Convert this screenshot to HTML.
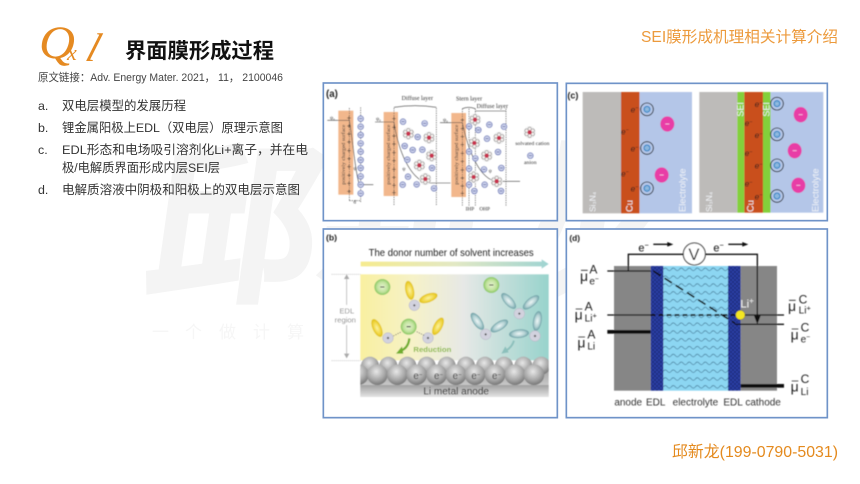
<!DOCTYPE html>
<html lang="zh">
<head>
<meta charset="utf-8">
<title>界面膜形成过程</title>
<style>
html,body{margin:0;padding:0;background:#fff;width:860px;height:484px;overflow:hidden}
svg{display:block}
text{font-family:"Liberation Sans","Noto Sans CJK SC",sans-serif}
.li{font-size:12.4px;fill:#333}
.sf{font-family:"Liberation Serif",serif}
</style>
</head>
<body>
<svg xmlns="http://www.w3.org/2000/svg" width="860" height="484" viewBox="0 0 860 484">
<defs>
<filter id="b" x="-5%" y="-5%" width="110%" height="110%"><feGaussianBlur stdDeviation="1.4"/></filter>
<clipPath id="cb"><rect x="121" y="380" width="565" height="136"/></clipPath>
<linearGradient id="bg" x1="0" x2="1" y1="0" y2="0"><stop offset="0" stop-color="#f9f0a0"/><stop offset=".28" stop-color="#f6f2c8"/><stop offset=".55" stop-color="#e6e8e6"/><stop offset="1" stop-color="#98d3cc"/></linearGradient>
<linearGradient id="ar" x1="0" x2="1" y1="0" y2="0"><stop offset="0" stop-color="#f6eb8e"/><stop offset=".5" stop-color="#e2e8c4"/><stop offset="1" stop-color="#9fd4d2"/></linearGradient>
<linearGradient id="band" x1="0" x2="0" y1="0" y2="1"><stop offset="0" stop-color="#a0a0a0"/><stop offset="1" stop-color="#e4e4e4"/></linearGradient>
<radialGradient id="sp" cx=".45" cy=".35" r=".7"><stop offset="0" stop-color="#e8e8e8"/><stop offset=".6" stop-color="#a6a6a6"/><stop offset="1" stop-color="#6e6e6e"/></radialGradient>
<radialGradient id="gr" cx=".5" cy=".5" r=".5"><stop offset="0" stop-color="#e6f3d0"/><stop offset=".65" stop-color="#c0e29c"/><stop offset="1" stop-color="#86c65e"/></radialGradient>
<radialGradient id="yl" cx=".5" cy=".5" r=".5"><stop offset="0" stop-color="#fbf3a0"/><stop offset=".6" stop-color="#f2d84a"/><stop offset="1" stop-color="#dfc013"/></radialGradient>
<radialGradient id="te" cx=".5" cy=".5" r=".5"><stop offset="0" stop-color="#eef6f6"/><stop offset=".6" stop-color="#b4d2d4"/><stop offset="1" stop-color="#6a9ea4"/></radialGradient>
<pattern id="wave" width="24" height="23.5" patternUnits="userSpaceOnUse" x="310" y="125"><path d="M0 8 q6 -8 12 0 t12 0" fill="none" stroke="#24506e" stroke-width="1.5"/></pattern>
<pattern id="hex" width="12" height="12" patternUnits="userSpaceOnUse"><rect width="12" height="12" fill="#2a3ca2"/><circle cx="3" cy="3" r="2.6" fill="#17226e"/><circle cx="9" cy="9" r="2.6" fill="#17226e"/></pattern>
<g id="an"><circle r="8.5" fill="#ccd2ec" stroke="#4455a4" stroke-width="1.8"/><path d="M-4.5 0H4.5" stroke="#2a3784" stroke-width="1.8"/></g>
<g id="pl"><path d="M-5.5 0H5.5M0 -5.5V5.5" stroke="#222" stroke-width="1.5"/></g>
<g id="ca"><circle r="17" fill="#fff" stroke="#bbb" stroke-width=".8"/><g fill="#f4f0ee" stroke="#555" stroke-width="1.3"><circle cy="-10" r="5.5"/><circle cx="9" cy="-5" r="5.5"/><circle cx="9" cy="5" r="5.5"/><circle cy="10" r="5.5"/><circle cx="-9" cy="5" r="5.5"/><circle cx="-9" cy="-5" r="5.5"/></g><circle r="6.5" fill="#c8324e"/></g>
<g id="cp"><circle r="19" fill="none" stroke="#111" stroke-width="2.6"/><circle r="10.5" fill="#2f86c8"/><circle r="5.5" fill="none" stroke="#fff" stroke-width="1.3"/><path d="M-3 0H3M0 -3V3" stroke="#fff" stroke-width="1.3"/></g>
<g id="cm"><ellipse rx="21" ry="23" fill="#e83ea6"/><path d="M-6 0H6" stroke="#f6c6e4" stroke-width="2.6"/></g>
<g id="sb"><circle r="16" fill="#d2d2de" stroke="#b4b4c4" stroke-width="1.5"/><circle r="2.6" fill="#3a3a3a"/><path d="M-4 0H4M0 -4V4" stroke="#333" stroke-width="1"/></g>
<g id="ga"><circle r="24" fill="url(#gr)"/><path d="M-6 0H6" stroke="#222" stroke-width="3"/></g>
<ellipse id="ey" rx="13" ry="29" fill="url(#yl)"/>
<ellipse id="et" rx="13" ry="30" fill="url(#te)"/>
<circle id="s" r="31" fill="url(#sp)"/>
<circle id="s2" r="27" fill="url(#sp)"/>
</defs>

<!-- watermark -->
<text transform="translate(140,288) skewX(-8)" font-size="172" font-weight="700" fill="#f4f4f4" stroke="#f4f4f4" stroke-width="3" style="font-family:'Noto Sans CJK SC',sans-serif">邱新龙</text>
<g fill="#f6f6f6" font-size="17">
<text x="152" y="338">一</text><text x="185" y="338">个</text><text x="219" y="338">做</text><text x="253" y="338">计</text><text x="287" y="338">算</text>
</g>

<!-- header -->
<text x="39" y="58" font-size="47" class="sf" font-style="italic" fill="#e58a22" textLength="36" lengthAdjust="spacingAndGlyphs">Q</text>
<text x="67" y="60" font-size="22" class="sf" font-style="italic" fill="#e58a22">x</text>
<text transform="translate(84,61) skewX(-18)" font-size="40" class="sf" font-style="italic" fill="#e58a22">l</text>
<text x="125" y="58" font-size="21" font-weight="700" fill="#111" textLength="149" lengthAdjust="spacingAndGlyphs">界面膜形成过程</text>
<text x="38" y="81" font-size="11" fill="#444" textLength="245" lengthAdjust="spacingAndGlyphs">原文链接：Adv. Energy Mater. 2021， 11， 2100046</text>
<text x="641" y="42" font-size="15.5" fill="#ec9a3c" textLength="197" lengthAdjust="spacingAndGlyphs">SEI膜形成机理相关计算介绍</text>
<text x="672" y="457" font-size="16" fill="#e48a1e" textLength="166" lengthAdjust="spacingAndGlyphs">邱新龙(199-0790-5031)</text>

<!-- list -->
<text class="li" x="38" y="110">a.</text><text class="li" x="62" y="110" textLength="124" lengthAdjust="spacingAndGlyphs">双电层模型的发展历程</text>
<text class="li" x="38" y="132">b.</text><text class="li" x="62" y="132" textLength="221" lengthAdjust="spacingAndGlyphs">锂金属阳极上EDL（双电层）原理示意图</text>
<text class="li" x="38" y="154">c.</text><text class="li" x="62" y="154" textLength="246" lengthAdjust="spacingAndGlyphs">EDL形态和电场吸引溶剂化Li+离子，并在电</text>
<text class="li" x="62" y="172" textLength="158" lengthAdjust="spacingAndGlyphs">极/电解质界面形成内层SEI层</text>
<text class="li" x="38" y="194">d.</text><text class="li" x="62" y="194" textLength="238" lengthAdjust="spacingAndGlyphs">电解质溶液中阴极和阳极上的双电层示意图</text>

<!-- panel a -->
<g transform="translate(320,78) scale(.33333)">
<rect x="10" y="15" width="702" height="413" fill="#fff" fill-opacity=".94" stroke="#6f93c8" stroke-width="5"/>
<g filter="url(#b)">
<text x="18" y="57" font-size="29" font-weight="700" fill="#222">(a)</text>
<rect x="55" y="98" width="45" height="252" fill="#f2b78c"/>
<rect x="191" y="102" width="43" height="252" fill="#f2b78c"/>
<rect x="394" y="105" width="44" height="252" fill="#f2b78c"/>
<g fill="none" stroke="#444" stroke-width="1.8">
<path d="M88 90V368M122 88V372M88 368H122" stroke-dasharray="4 3"/>
<path d="M222 90V382M349 90V382M427 92V384M447 92V384M466 92V384M558 92V384" stroke-dasharray="4 3"/>
<path d="M22 127H88C100 200 105 280 118 320H160"/>
<path d="M165 132H222C235 220 270 300 320 315H392"/>
<path d="M360 134H427C445 220 480 305 530 310H600"/>
<path d="M222 88Q285 78 349 88M427 92Q445 84 466 92"/>
<path d="M466 99H558"/>
</g>
<g fill="#333">
<text x="245" y="66" font-size="18" class="sf">Diffuse layer</text>
<text x="408" y="68" font-size="18" class="sf">Stern layer</text>
<text x="470" y="90" font-size="18" class="sf">Diffuse layer</text>
<text x="586" y="201" font-size="17" class="sf">solvated cation</text>
<text x="612" y="258" font-size="17" class="sf">anion</text>
<text x="437" y="397" font-size="16" class="sf">IHP</text>
<text x="478" y="397" font-size="16" class="sf">OHP</text>
<text x="30" y="124" font-size="15" class="sf">ψ₀</text>
<text x="168" y="128" font-size="15" class="sf">ψ₀</text>
<text x="369" y="130" font-size="15" class="sf">ψ₀</text>
<text x="100" y="276" font-size="15" class="sf">ψ</text>
<text x="247" y="278" font-size="15" class="sf">ψ</text>
<text x="506" y="284" font-size="15" class="sf">ψ</text>
<text x="100" y="376" font-size="16" class="sf">d</text>
<text transform="translate(75,320) rotate(-90)" font-size="17" class="sf" textLength="180" lengthAdjust="spacingAndGlyphs">positively charged surface</text>
<text transform="translate(210,320) rotate(-90)" font-size="17" class="sf" textLength="180" lengthAdjust="spacingAndGlyphs">positively charged surface</text>
<text transform="translate(414,320) rotate(-90)" font-size="17" class="sf" textLength="180" lengthAdjust="spacingAndGlyphs">positively charged surface</text>
</g>
<use href="#pl" x="87" y="120"/><use href="#pl" x="87" y="144"/><use href="#pl" x="87" y="168"/><use href="#pl" x="87" y="192"/><use href="#pl" x="87" y="218"/><use href="#pl" x="87" y="242"/><use href="#pl" x="87" y="266"/><use href="#pl" x="87" y="292"/><use href="#pl" x="87" y="316"/><use href="#pl" x="87" y="340"/>
<use href="#pl" x="222" y="122"/><use href="#pl" x="222" y="148"/><use href="#pl" x="222" y="174"/><use href="#pl" x="222" y="198"/><use href="#pl" x="222" y="224"/><use href="#pl" x="222" y="248"/><use href="#pl" x="222" y="274"/><use href="#pl" x="222" y="298"/><use href="#pl" x="222" y="322"/><use href="#pl" x="222" y="344"/>
<use href="#pl" x="427" y="126"/><use href="#pl" x="427" y="152"/><use href="#pl" x="427" y="176"/><use href="#pl" x="427" y="200"/><use href="#pl" x="427" y="226"/><use href="#pl" x="427" y="250"/><use href="#pl" x="427" y="276"/><use href="#pl" x="427" y="300"/><use href="#pl" x="427" y="324"/><use href="#pl" x="427" y="346"/>
<use href="#an" x="122" y="122"/><use href="#an" x="122" y="146"/><use href="#an" x="122" y="171"/><use href="#an" x="122" y="196"/><use href="#an" x="122" y="221"/><use href="#an" x="122" y="246"/><use href="#an" x="122" y="270"/><use href="#an" x="122" y="295"/><use href="#an" x="122" y="320"/><use href="#an" x="122" y="346"/>
<use href="#an" x="249" y="131"/><use href="#an" x="314" y="136"/><use href="#an" x="293" y="177"/><use href="#an" x="254" y="204"/><use href="#an" x="278" y="216"/><use href="#an" x="307" y="215"/><use href="#an" x="262" y="245"/><use href="#an" x="336" y="270"/><use href="#an" x="264" y="296"/><use href="#an" x="248" y="320"/><use href="#an" x="290" y="319"/><use href="#an" x="342" y="331"/>
<use href="#ca" x="265" y="167"/><use href="#ca" x="327" y="179"/><use href="#ca" x="335" y="233"/><use href="#ca" x="298" y="262"/><use href="#ca" x="316" y="303"/>
<use href="#an" x="447" y="145"/><use href="#an" x="475" y="156"/><use href="#an" x="508" y="140"/><use href="#an" x="552" y="146"/><use href="#an" x="501" y="182"/><use href="#an" x="447" y="221"/><use href="#an" x="534" y="222"/><use href="#an" x="466" y="241"/><use href="#an" x="447" y="272"/><use href="#an" x="492" y="274"/><use href="#an" x="544" y="270"/><use href="#an" x="494" y="320"/><use href="#an" x="447" y="320"/><use href="#an" x="463" y="339"/><use href="#an" x="543" y="339"/>
<use href="#ca" x="465" y="125"/><use href="#ca" x="463" y="195"/><use href="#ca" x="537" y="180"/><use href="#ca" x="500" y="233"/><use href="#ca" x="461" y="297"/><use href="#ca" x="530" y="310"/>
<use href="#ca" x="629" y="163"/><use href="#an" x="631" y="233"/>
</g>
</g>

<!-- panel c -->
<g transform="translate(560,78) scale(.33333)">
<rect x="19" y="16" width="783" height="412" fill="#fff" stroke="#6f93c8" stroke-width="5"/>
<g filter="url(#b)">
<text x="22" y="62" font-size="27" font-weight="700" fill="#222">(c)</text>
<rect x="68" y="42" width="115" height="364" fill="#bdbbb9"/>
<rect x="183" y="42" width="56" height="364" fill="#c9501e"/>
<rect x="239" y="42" width="157" height="364" fill="#b4c6e8"/>
<rect x="418" y="42" width="114" height="362" fill="#bdbbb9"/>
<rect x="532" y="42" width="21" height="362" fill="#83d03a"/>
<rect x="553" y="42" width="56" height="362" fill="#c9501e"/>
<rect x="609" y="42" width="23" height="362" fill="#83d03a"/>
<rect x="632" y="42" width="158" height="362" fill="#b4c6e8"/>
<g fill="#f2f4f8" font-size="28">
<text transform="translate(106,402) rotate(-90)" font-size="25">Si₃N₄</text>
<text transform="translate(218,402) rotate(-90)">Cu</text>
<text transform="translate(376,402) rotate(-90)">Electrolyte</text>
<text transform="translate(456,402) rotate(-90)" font-size="25">Si₃N₄</text>
<text transform="translate(551,116) rotate(-90)" font-size="27">SEI</text>
<text transform="translate(580,402) rotate(-90)">Cu</text>
<text transform="translate(628,116) rotate(-90)" font-size="27">SEI</text>
<text transform="translate(776,402) rotate(-90)">Electrolyte</text>
</g>
<g fill="#1a1a1a" font-size="25" font-style="italic">
<text x="212" y="103">e<tspan dy="-8" font-size="16">−</tspan></text><text x="212" y="221">e<tspan dy="-8" font-size="16">−</tspan></text><text x="212" y="340">e<tspan dy="-8" font-size="16">−</tspan></text><text x="183" y="169">e<tspan dy="-8" font-size="16">−</tspan></text><text x="183" y="295">e<tspan dy="-8" font-size="16">−</tspan></text>
<text x="584" y="87">e<tspan dy="-8" font-size="16">−</tspan></text><text x="584" y="180">e<tspan dy="-8" font-size="16">−</tspan></text><text x="584" y="272">e<tspan dy="-8" font-size="16">−</tspan></text><text x="584" y="364">e<tspan dy="-8" font-size="16">−</tspan></text><text x="554" y="144">e<tspan dy="-8" font-size="16">−</tspan></text><text x="554" y="234">e<tspan dy="-8" font-size="16">−</tspan></text><text x="554" y="326">e<tspan dy="-8" font-size="16">−</tspan></text>
</g>
<use href="#cp" x="261" y="94"/><use href="#cp" x="261" y="210"/><use href="#cp" x="261" y="331"/>
<use href="#cm" x="322" y="138"/><use href="#cm" x="305" y="291"/>
<use href="#cp" x="651" y="77"/><use href="#cp" x="651" y="169"/><use href="#cp" x="651" y="262"/><use href="#cp" x="651" y="354"/>
<use href="#cm" x="722" y="110"/><use href="#cm" x="704" y="218"/><use href="#cm" x="715" y="322"/>
</g>
</g>

<!-- panel b -->
<g transform="translate(320,225) scale(.33333)">
<rect x="10" y="12" width="702" height="566" fill="#fff" fill-opacity=".94" stroke="#6f93c8" stroke-width="5"/>
<g filter="url(#b)">
<text x="18" y="47" font-size="26" font-weight="700" fill="#222">(b)</text>
<text x="146" y="93" font-size="29" fill="#222" textLength="495" lengthAdjust="spacingAndGlyphs">The donor number of solvent increases</text>
<path d="M122 110H665V103L686 117L665 131V124H122Z" fill="url(#ar)"/>
<rect x="121" y="148" width="565" height="258" fill="url(#bg)"/>
<path d="M35 148H121M35 407H121" stroke="#aaa" stroke-width="2" stroke-dasharray="3 3"/>
<path d="M80 158V395" stroke="#aaa" stroke-width="2"/><path d="M72 162L80 148L88 162ZM72 386L80 400L88 386Z" fill="#aaa"/>
<rect x="42" y="240" width="72" height="60" fill="#fff"/>
<text x="58" y="266" font-size="23" fill="#888">EDL</text><text x="44" y="293" font-size="23" fill="#888">region</text>
<use href="#ga" x="187" y="186"/>
<use href="#ga" x="514" y="180"/>
<use href="#ga" x="266" y="305"/>
<use href="#ey" transform="translate(269,196) rotate(-12)"/>
<use href="#ey" transform="translate(325,219) rotate(70)"/>
<use href="#ey" transform="translate(171,309) rotate(-25)"/>
<use href="#ey" transform="translate(354,304) rotate(28)"/>
<use href="#sb" x="283" y="241"/><use href="#sb" x="204" y="339"/><use href="#sb" x="324" y="339"/>
<path d="M220 333L245 320M290 320L314 332" stroke="#555" stroke-width="2" stroke-dasharray="4 3"/>
<path d="M268 340Q265 370 240 378" fill="none" stroke="#6fae2e" stroke-width="7"/><path d="M228 386L246 364L250 386Z" fill="#6fae2e"/>
<text x="280" y="381" font-size="21" font-weight="700" fill="#8cba4a" textLength="114" lengthAdjust="spacingAndGlyphs">Reduction</text>
<use href="#et" transform="translate(566,228) rotate(-42)"/>
<use href="#et" transform="translate(633,232) rotate(50)"/>
<use href="#et" transform="translate(472,289) rotate(-35)"/>
<use href="#et" transform="translate(538,303) rotate(58)"/>
<use href="#et" transform="translate(652,288) rotate(10)"/>
<use href="#et" transform="translate(597,326) rotate(85)"/>
<use href="#sb" x="598" y="266"/><use href="#sb" x="497" y="328"/><use href="#sb" x="645" y="333"/>
<path d="M582 347Q575 368 556 378" fill="none" stroke="#8cc0bc" stroke-width="6"/><path d="M544 386L556 364L566 382Z" fill="#8cc0bc"/>
<rect x="121" y="430" width="565" height="86" fill="url(#band)"/>
<g clip-path="url(#cb)">
<use href="#s2" x="150" y="422"/><use href="#s2" x="205" y="422"/><use href="#s2" x="262" y="422"/><use href="#s2" x="320" y="422"/><use href="#s2" x="380" y="422"/><use href="#s2" x="438" y="422"/><use href="#s2" x="495" y="422"/><use href="#s2" x="552" y="422"/><use href="#s2" x="610" y="422"/><use href="#s2" x="664" y="422"/>
<use href="#s" x="115" y="449"/><use href="#s" x="172" y="449"/><use href="#s" x="232" y="449"/><use href="#s" x="290" y="449"/><use href="#s" x="350" y="449"/><use href="#s" x="408" y="449"/><use href="#s" x="465" y="449"/><use href="#s" x="525" y="449"/><use href="#s" x="585" y="449"/><use href="#s" x="642" y="449"/>
</g>
<rect x="121" y="480" width="565" height="36" fill="url(#band)"/>
<g fill="#333" font-size="29"><text x="280" y="462">e<tspan dy="-8" font-size="18">−</tspan></text><text x="342" y="462">e<tspan dy="-8" font-size="18">−</tspan></text><text x="398" y="462">e<tspan dy="-8" font-size="18">−</tspan></text><text x="454" y="462">e<tspan dy="-8" font-size="18">−</tspan></text><text x="516" y="462">e<tspan dy="-8" font-size="18">−</tspan></text></g>
<text x="310" y="508" font-size="30" fill="#222" textLength="197" lengthAdjust="spacingAndGlyphs">Li metal anode</text>
</g>
</g>

<!-- panel d -->
<g transform="translate(560,225) scale(.33333)">
<rect x="19" y="12" width="783" height="566" fill="#fff" stroke="#6f93c8" stroke-width="5"/>
<g filter="url(#b)">
<text x="28" y="48" font-size="25" font-weight="700" fill="#222">(d)</text>
<rect x="162" y="123" width="110" height="374" fill="#868686"/>
<rect x="542" y="123" width="109" height="374" fill="#868686"/>
<rect x="310" y="123" width="194" height="374" fill="#8cd6f2"/>
<rect x="310" y="123" width="194" height="374" fill="url(#wave)"/>
<rect x="272" y="123" width="38" height="374" fill="url(#hex)"/>
<rect x="504" y="123" width="38" height="374" fill="url(#hex)"/>
<path d="M205 138V88H370M436 88H592V290" fill="none" stroke="#111" stroke-width="4"/>
<path d="M582 272L592 298L602 272Z" fill="#111"/>
<circle cx="403" cy="87" r="33" fill="#fff" stroke="#222" stroke-width="3"/>
<text x="385" y="105" font-size="50" fill="#111">V</text>
<text x="235" y="80" font-size="33" fill="#111">e<tspan dy="-12" font-size="22">−</tspan></text>
<text x="460" y="80" font-size="33" fill="#111">e<tspan dy="-12" font-size="22">−</tspan></text>
<path d="M280 58H325M505 58H550" stroke="#111" stroke-width="4"/><path d="M322 51L340 58L322 65ZM547 51L565 58L547 65Z" fill="#111"/>
<path d="M142 138H272M142 270H272M540 270H672M525 298H672" stroke="#111" stroke-width="4"/>
<path d="M280 138L525 295" stroke="#111" stroke-width="5" stroke-dasharray="26 14" fill="none"/>
<path d="M272 270H525" stroke="#111" stroke-width="5" stroke-dasharray="14 10"/>
<rect x="142" y="315" width="130" height="11" fill="#111"/>
<rect x="542" y="477" width="130" height="11" fill="#111"/>
<circle cx="541" cy="270" r="14" fill="#f4e620" stroke="#55500a" stroke-width="1"/>
<text x="541" y="247" font-size="34" fill="#f2f2f2">Li<tspan dy="-12" font-size="24">+</tspan></text>
<g fill="#222">
<text x="60" y="168" font-size="42">μ</text><text x="88" y="145" font-size="36">A</text><text x="88" y="178" font-size="30">e<tspan dy="-10" font-size="20">−</tspan></text>
<text x="44" y="284" font-size="42">μ</text><text x="74" y="257" font-size="36">A</text><text x="74" y="289" font-size="30">Li<tspan dy="-10" font-size="22">+</tspan></text>
<text x="52" y="368" font-size="42">μ</text><text x="82" y="340" font-size="36">A</text><text x="82" y="374" font-size="30">Li</text>
<text x="684" y="258" font-size="42">μ</text><text x="716" y="236" font-size="36">C</text><text x="716" y="266" font-size="30">Li<tspan dy="-10" font-size="22">+</tspan></text>
<text x="692" y="344" font-size="42">μ</text><text x="722" y="320" font-size="36">C</text><text x="722" y="352" font-size="30">e<tspan dy="-10" font-size="20">−</tspan></text>
<text x="692" y="500" font-size="42">μ</text><text x="722" y="474" font-size="36">C</text><text x="722" y="510" font-size="30">Li</text>
</g>
<path d="M63 136H83M47 252H67M55 336H75M687 226H707M695 312H715M695 468H715" stroke="#222" stroke-width="2.5"/>
<g fill="#333" font-size="30">
<text x="163" y="541">anode</text><text x="258" y="541">EDL</text><text x="338" y="541">electrolyte</text><text x="490" y="541">EDL</text><text x="556" y="541">cathode</text>
</g>
</g>
</g>
</svg>
</body>
</html>
